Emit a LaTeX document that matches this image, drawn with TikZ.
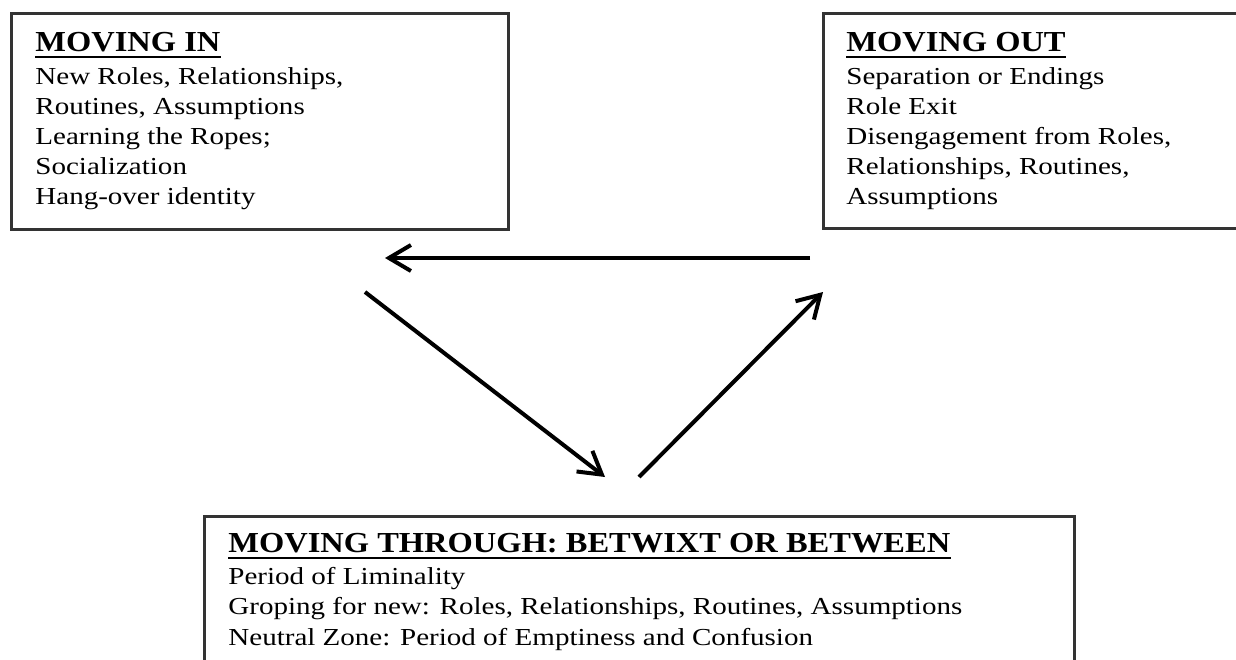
\documentclass[tikz,border=0pt]{standalone}
\usepackage{fontspec}
\setmainfont{Liberation Serif}
\newfontfamily\bodyfont[FakeStretch=1.19]{Liberation Serif}
\newfontfamily\headfont[FakeStretch=1.12]{Liberation Serif}
\usepackage{tikz}
\usetikzlibrary{arrows.meta, positioning, calc}

\tikzset{
  stagebox/.style={draw=black!80, line width=1.4pt, anchor=north west, inner sep=0pt},
  stagehead/.style={anchor=base west, inner sep=0pt, font=\headfont\bfseries\fontsize{14.5}{17}\selectfont},
  stageline/.style={anchor=base west, inner sep=0pt, font=\bodyfont\fontsize{12.2}{14.9}\selectfont},
  flow/.style={line width=2pt, -{Straight Barb[length=11pt, width=13pt]}}
}

\begin{document}
\begin{tikzpicture}[x=0.5pt, y=-0.5pt]
\useasboundingbox (0,0) rectangle (1236,659);

% the three stages
\node[stagebox, minimum width=248.5pt, minimum height=108pt] (inbox) at (10,12) {};
\node[stagebox, minimum width=230pt, minimum height=107.5pt] (outbox) at (822,12) {};
\node[stagebox, minimum width=435pt, minimum height=100pt] (thrubox) at (203,515) {};

\node[stagehead] (inhead) at (35,51.5) {MOVING IN};
\node[stagehead] (outhead) at (846,51.5) {MOVING OUT};
\node[stagehead] (thruhead) at (228,552) {MOVING THROUGH: BETWIXT OR BETWEEN};
\foreach \h in {inhead, outhead, thruhead}
  \draw[line width=1pt] ([yshift=-2.4pt]\h.south west) -- ([yshift=-2.4pt]\h.south east);

\foreach \txt [count=\i] in {{New Roles, Relationships,}, {Routines, Assumptions},
  {Learning the Ropes;}, {Socialization}, {Hang-over identity}}
  \node[stageline] (in-\i) at (35,{84.5+(\i-1)*29.9}) {\txt};

\foreach \txt [count=\i] in {{Separation or Endings}, {Role Exit},
  {Disengagement from Roles,}, {Relationships, Routines,}, {Assumptions}}
  \node[stageline] (out-\i) at (846,{84.5+(\i-1)*29.9}) {\txt};

\foreach \txt [count=\i] in {{Period of Liminality},
  {Groping for new: Roles, Relationships, Routines, Assumptions},
  {Neutral Zone: Period of Emptiness and Confusion}}
  \node[stageline] (thru-\i) at (228,{584+(\i-1)*30.5}) {\txt};

% cycle arrows
\coordinate (out-from) at (810,258);
\coordinate (in-to) at (385,258);
\coordinate (in-from) at (365,292);
\coordinate (thru-to) at (605,477);
\coordinate (thru-from) at (639,477);
\coordinate (out-to) at (823,292);
\draw[flow] (out-from) -- (in-to);
\draw[flow] (in-from) -- (thru-to);
\draw[flow] (thru-from) -- (out-to);
\end{tikzpicture}
\end{document}
